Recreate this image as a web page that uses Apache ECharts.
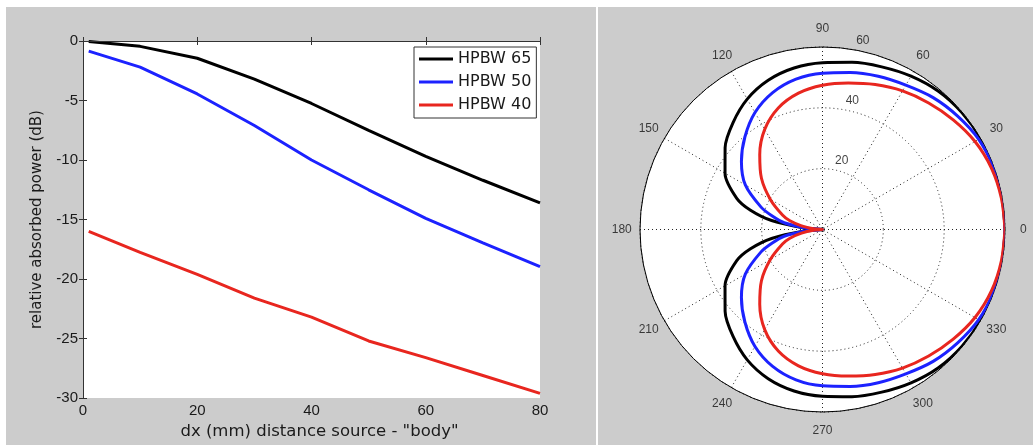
<!DOCTYPE html>
<html><head><meta charset="utf-8">
<script src="https://cdn.jsdelivr.net/npm/echarts@6/dist/echarts.min.js"></script>
<style>html,body{margin:0;padding:0;background:#fff;}#c{width:1033px;height:445px;}</style>
</head><body><div id="c"></div>
<script>
// ---- left panel data ----
const dx = [1, 10, 20, 30, 40, 50, 60, 70, 80];
const hpbw65 = [-0.05, -0.45, -1.45, -3.2, -5.25, -7.5, -9.7, -11.7, -13.6];
const hpbw50 = [-0.85, -2.2, -4.45, -7.1, -10.0, -12.5, -14.9, -16.95, -18.95];
const hpbw40 = [-16.0, -17.75, -19.6, -21.6, -23.2, -25.2, -26.6, -28.1, -29.6];
const seriesNames = ['HPBW 65', 'HPBW 50', 'HPBW 40'];
const colors = ['#000000', '#1c22ff', '#e8261f'];

// ---- right panel (polar) data, upper half 0..180 deg ----
const polarAngles = [0, 10, 20, 30, 40, 50, 60, 70, 80, 90, 100, 110, 120, 130, 140, 150, 160, 165, 170, 175, 180];
const polar65 = [60, 60, 60, 60, 59.8, 59.3, 58.2, 56.9, 55.8, 54.8, 53.9, 52.2, 49.5, 45.8, 41.8, 37.0, 30.0, 24.5, 17.0, 6.0, 0];
const polar50 = [60, 60, 59.8, 59.3, 58.0, 56.6, 54.8, 53.6, 52.4, 51.4, 50.2, 47.9, 44.4, 39.7, 34.8, 29.3, 21.5, 17.1, 12.8, 5.0, 0];
const polar40 = [60, 59.7, 59.1, 57.9, 56.1, 54.3, 52.6, 50.7, 48.9, 47.4, 45.5, 42.5, 38.0, 32.1, 26.2, 19.8, 14.0, 11.1, 7.0, 3.0, 0];
const angleLabels = [0, 30, 60, 90, 120, 150, 180, 210, 240, 270, 300, 330];
const radialLabels = [20, 40, 60];

// build full symmetric curve (pattern mirrored about 0-180 axis)
function fullCurve(r) {
  const pts = polarAngles.map((a, i) => [r[i], a]);
  for (let i = polarAngles.length - 2; i >= 0; i--) pts.push([r[i], 360 - polarAngles[i]]);
  return pts;
}

const tickFont = 'Liberation Sans';
const chart = echarts.init(document.getElementById('c'), null, {renderer: 'canvas'});

const lineSeries = [hpbw65, hpbw50, hpbw40].map((v, k) => ({
  name: seriesNames[k], type: 'line', xAxisIndex: 0, yAxisIndex: 0,
  data: dx.map((x, i) => [x, v[i]]), showSymbol: false, symbol: 'none',
  lineStyle: {color: colors[k], width: 3}, itemStyle: {color: colors[k]}, z: 3
}));
const polarSeries = [polar65, polar50, polar40].map((v, k) => ({
  type: 'line', coordinateSystem: 'polar', data: fullCurve(v), showSymbol: false, symbol: 'none',
  smooth: 0.3, lineStyle: {color: colors[k], width: 3}, z: 3, silent: true
}));

const R_PX = 182.5;
const LABEL_OUT = R_PX * 0.1; // labels centred at 1.1 x outer radius
const angleLabelData = angleLabels.map(a => {
  const t = a * Math.PI / 180;
  return {value: [60, a], label: {offset: [LABEL_OUT * Math.cos(t), -LABEL_OUT * Math.sin(t)]}};
});

const option = {
  animation: false,
  graphic: [
    {type: 'rect', shape: {x: 6, y: 7, width: 590, height: 438}, style: {fill: '#cccccc'}, z: -10},
    {type: 'rect', shape: {x: 598, y: 7, width: 435, height: 438}, style: {fill: '#cccccc'}, z: -10},
    {type: 'circle', shape: {cx: 822.5, cy: 229.5, r: R_PX}, style: {fill: '#ffffff'}, z: -5}
  ],
  grid: {left: 83, top: 41, right: 493, bottom: 43, show: true, backgroundColor: '#ffffff', borderWidth: 0},
  legend: {
    data: seriesNames, orient: 'vertical', left: 414, top: 47, padding: [4, 5, 5, 5],
    backgroundColor: '#ffffff', borderColor: '#333', borderWidth: 1, borderRadius: 0,
    itemWidth: 34, itemHeight: 3, itemGap: 7, icon: 'rect',
    textStyle: {fontFamily: 'DejaVu Sans', fontSize: 16, color: '#1a1a1a'}
  },
  xAxis: [
    {type: 'value', gridIndex: 0, min: 0, max: 80, interval: 20, position: 'bottom', z: 5,
     name: 'dx (mm) distance source - "body"', nameLocation: 'middle', nameGap: 24,
     nameTextStyle: {fontFamily: 'DejaVu Sans', fontSize: 16.5, color: '#1a1a1a', padding: [0, 0, 0, 16]},
     axisLine: {lineStyle: {color: '#333', width: 1}}, axisTick: {inside: true, length: 4, lineStyle: {color: '#333'}},
     axisLabel: {fontFamily: tickFont, fontSize: 15, color: '#1a1a1a', margin: 5}, splitLine: {show: false}},
    {type: 'value', gridIndex: 0, min: 0, max: 80, interval: 20, position: 'top', z: 5,
     axisLine: {lineStyle: {color: '#333', width: 1}}, axisTick: {inside: true, length: 4, lineStyle: {color: '#333'}},
     axisLabel: {show: false}, splitLine: {show: false}}
  ],
  yAxis: [
    {type: 'value', gridIndex: 0, min: -30, max: 0, interval: 5, position: 'left', z: 5,
     name: 'relative absorbed power (dB)', nameLocation: 'middle', nameGap: 38,
     nameTextStyle: {fontFamily: 'DejaVu Sans', fontSize: 15, color: '#1a1a1a'},
     axisLine: {lineStyle: {color: '#333', width: 1}}, axisTick: {inside: true, length: 4, lineStyle: {color: '#333'}},
     axisLabel: {fontFamily: tickFont, fontSize: 15, color: '#1a1a1a', margin: 5}, splitLine: {show: false}},
    {type: 'value', gridIndex: 0, min: -30, max: 0, interval: 5, position: 'right', z: 5,
     axisLine: {lineStyle: {color: '#333', width: 1}}, axisTick: {inside: true, length: 4, lineStyle: {color: '#333'}},
     axisLabel: {show: false}, splitLine: {show: false}}
  ],
  polar: {center: [822.5, 229.5], radius: R_PX},
  angleAxis: {
    type: 'value', min: 0, max: 360, interval: 30, startAngle: 0, clockwise: false, z: 2,
    axisLine: {lineStyle: {color: '#000', width: 1}}, axisTick: {show: false}, axisLabel: {show: false},
    splitLine: {show: true, lineStyle: {color: '#222', width: 1, type: [1, 3]}}
  },
  radiusAxis: {
    type: 'value', min: 0, max: 60, interval: 20, z: 2,
    axisLine: {show: false}, axisTick: {show: false}, axisLabel: {show: false},
    splitLine: {show: true, lineStyle: {color: '#222', width: 1, type: [1, 3]}}
  },
  series: [
    ...lineSeries,
    ...polarSeries,
    {type: 'scatter', coordinateSystem: 'polar', symbolSize: 0, silent: true, z: 4,
     data: angleLabelData,
     label: {show: true, position: 'inside', formatter: p => String(p.value[1]),
             fontFamily: 'Liberation Sans', fontSize: 12, color: '#111'}},
    {type: 'scatter', coordinateSystem: 'polar', symbolSize: 0, silent: true, z: 4,
     data: radialLabels.map(r => [r, 80]),
     label: {show: true, position: [0, 0], align: 'left', verticalAlign: 'bottom', offset: [2, -3],
             formatter: p => String(p.value[0]),
             fontFamily: 'Liberation Sans', fontSize: 12, color: '#111'}}
  ]
};
chart.setOption(option);
</script></body></html>
